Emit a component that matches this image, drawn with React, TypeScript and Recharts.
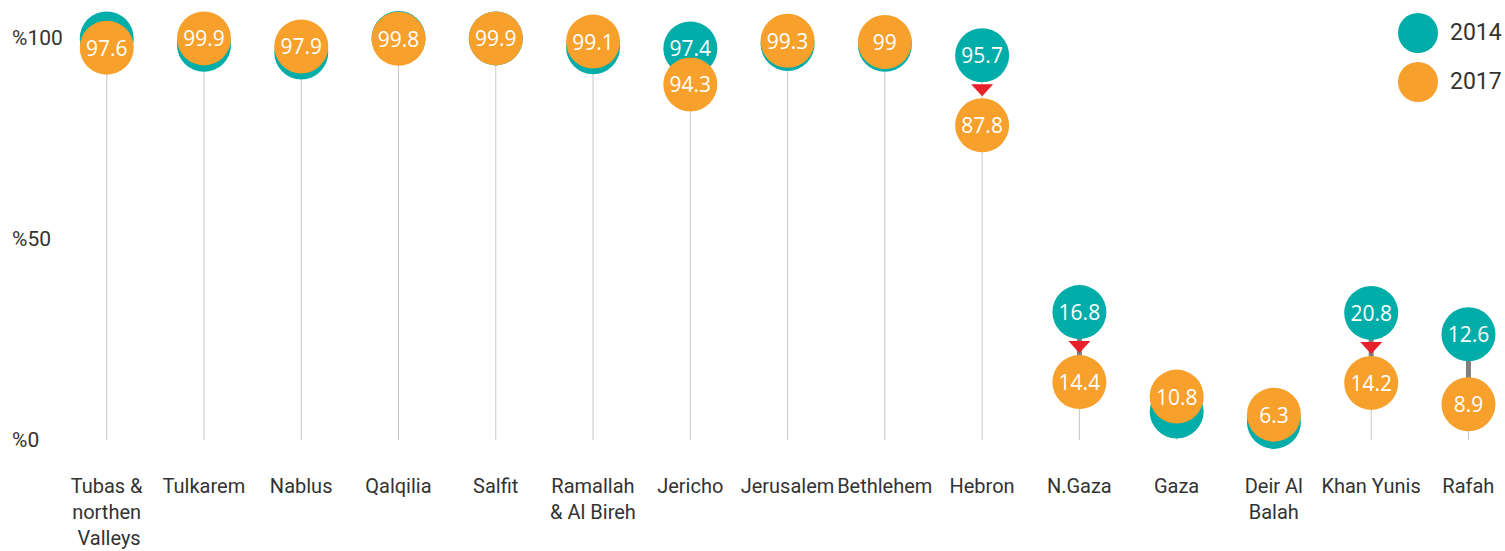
import { ComposedChart, Bar, XAxis, YAxis, Legend } from 'recharts'

const categories = [
  'Tubas &\nnorthen\n Valleys',
  'Tulkarem',
  'Nablus',
  'Qalqilia',
  'Salfit',
  'Ramallah\n& Al Bireh',
  'Jericho',
  'Jerusalem',
  'Bethlehem',
  'Hebron',
  'N.Gaza',
  'Gaza',
  'Deir Al\nBalah',
  'Khan Yunis',
  'Rafah',
]

// percent values, 2014 vs 2017 (2014 values hidden behind the 2017 circle are estimates)
const values2014 = [99.9, 98.3, 96.4, 100, 99.9, 97.7, 97.4, 98.5, 98.3, 95.7, 16.8, 7.1, 4.5, 20.8, 12.6]
const values2017 = [97.6, 99.9, 97.9, 99.8, 99.9, 99.1, 94.3, 99.3, 99, 87.8, 14.4, 10.8, 6.3, 14.2, 8.9]

const markedDrops = ['Hebron', 'N.Gaza', 'Khan Yunis']
const gazaStrip = ['N.Gaza', 'Gaza', 'Deir Al\nBalah', 'Khan Yunis', 'Rafah']

const seriesNames = ['2014', '2017']
const yTicks = [0, 50, 100]

const TEAL = '#00ADA8'
const ORANGE = '#F7A02B'
const RED = '#E8202A'
const R = 27

const data = categories.map((name, i) => ({
  name,
  v2014: values2014[i],
  v2017: values2017[i],
  range: [Math.min(values2014[i], values2017[i]), Math.max(values2014[i], values2017[i])],
}))

const PairShape = (props: any) => {
  const { x, y, width, height, payload, background } = props
  const cx = x + width / 2
  const hiPx = Math.min(y, y + height)
  const loPx = Math.max(y, y + height)
  const baseline = background ? background.y + background.height : loPx
  const { v2014, v2017, name } = payload
  let y14 = v2014 >= v2017 ? hiPx : loPx
  let y17 = v2014 >= v2017 ? loPx : hiPx
  const drop = v2014 - v2017
  const marked = markedDrops.includes(name)
  const connector = gazaStrip.includes(name) && drop > 0
  const minSep = marked || connector ? 70 : drop > 3 ? 36 : 0
  if (drop > 0 && y17 - y14 < minSep) {
    // push the pair apart toward the middle of the chart
    if ((v2014 + v2017) / 2 > 50) y17 = y14 + minSep
    else y14 = y17 - minSep
  }
  const top = Math.min(y14, y17)
  const mid = (y14 + y17) / 2
  const showTealLabel = Math.abs(y17 - y14) >= 30
  const labelStyle = { fontFamily: '"Open Sans", sans-serif', fontSize: 21, fill: '#fff' }
  return (
    <g>
      <line x1={cx} y1={baseline} x2={cx} y2={top} stroke="#C8C8C8" strokeWidth={1} />
      {connector && <line x1={cx} y1={y14} x2={cx} y2={y17} stroke="#7F7F7F" strokeWidth={5} />}
      <circle cx={cx} cy={y14} r={R} fill={TEAL} />
      {showTealLabel && (
        <text x={cx} y={y14} textAnchor="middle" dominantBaseline="central" style={labelStyle}>
          {v2014}
        </text>
      )}
      <circle cx={cx} cy={y17} r={R} fill={ORANGE} />
      <text x={cx} y={y17} textAnchor="middle" dominantBaseline="central" style={labelStyle}>
        {v2017}
      </text>
      {marked && (
        <polygon
          points={`${cx - 11},${mid - 6} ${cx + 11},${mid - 6} ${cx},${mid + 6}`}
          fill={RED}
        />
      )}
    </g>
  )
}

const CategoryTick = ({ x, y, payload }: any) => {
  const lines = String(payload.value).split('\n')
  return (
    <text
      x={x}
      y={y}
      textAnchor="middle"
      fill="#333"
      style={{ fontFamily: 'Roboto, sans-serif', fontSize: 20 }}
    >
      {lines.map((line, i) => (
        <tspan key={i} x={x} dy={i === 0 ? 45 : 26} style={{ whiteSpace: 'pre' }}>
          {line}
        </tspan>
      ))}
    </text>
  )
}

const PercentTick = ({ y, payload }: any) => (
  <text
    x={12}
    y={y}
    dominantBaseline="central"
    fill="#333"
    style={{ fontFamily: 'Roboto, sans-serif', fontSize: 21 }}
  >
    {'%' + payload.value}
  </text>
)

const LegendContent = () => (
  <div style={{ fontFamily: 'Roboto, sans-serif', fontSize: 23, color: '#333' }}>
    {seriesNames.map((s, i) => (
      <div key={s} style={{ display: 'flex', alignItems: 'center', height: 49 }}>
        <svg width={40} height={40}>
          <circle cx={20} cy={20} r={20} fill={i === 0 ? TEAL : ORANGE} />
        </svg>
        <span style={{ marginLeft: 12 }}>{s}</span>
      </div>
    ))}
  </div>
)

export default function App() {
  return (
    <div style={{ width: 1505, height: 551, overflow: 'hidden', position: 'relative', background: '#fff' }}>
      <style>{'body{margin:0}'}</style>
      <ComposedChart
        width={1517}
        height={551}
        data={data}
        margin={{ top: 38, right: 0, bottom: 11, left: 0 }}
      >
        <XAxis
          dataKey="name"
          interval={0}
          height={100}
          axisLine={false}
          tickLine={false}
          tick={<CategoryTick />}
        />
        <YAxis
          domain={[0, 100]}
          ticks={yTicks}
          width={58}
          axisLine={false}
          tickLine={false}
          tick={<PercentTick />}
        />
        <Legend
          layout="horizontal"
          align="center"
          verticalAlign="middle"
          content={<LegendContent />}
          wrapperStyle={{ top: 8, left: 1398, width: 'auto' }}
        />
        <Bar dataKey="range" shape={<PairShape />} isAnimationActive={false} />
      </ComposedChart>
    </div>
  )
}
